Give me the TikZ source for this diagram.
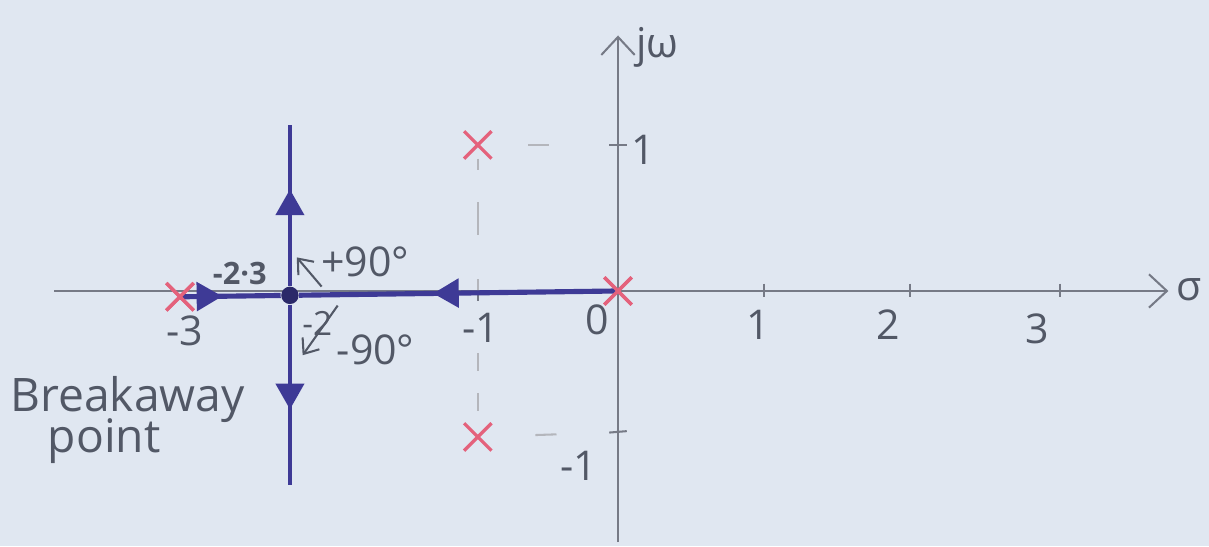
\documentclass[tikz,border=0pt]{standalone}
\usepackage{fontspec}
\setmainfont{Open Sans}
\usetikzlibrary{arrows.meta,positioning,shapes.misc,decorations.markings}
\definecolor{paper}{RGB}{224,231,241}
\definecolor{locusblue}{RGB}{62,58,150}
\definecolor{polered}{RGB}{228,98,124}
\definecolor{axisgray}{RGB}{118,122,134}
\definecolor{inkgray}{RGB}{82,88,102}

\begin{document}
\begin{tikzpicture}[
    x=2cm, y=2cm,
    axis/.style={axisgray, line width=0.8pt},
    locus/.style={locusblue, line width=2pt},
    polemark/.style={cross out, draw=polered, line width=1.3pt, minimum size=0.33cm, inner sep=0pt},
    guide/.style={axisgray!55, line width=0.8pt},
    ticklabel/.style={inkgray, font=\fontsize{16}{18}\selectfont},
    note/.style={inkgray, font=\fontsize{16}{18}\selectfont},
    inkarrow/.style={inkgray, line width=0.8pt, -{Straight Barb[length=5pt,width=8pt]}},
    flowarrow/.style={postaction={decorate}, decoration={markings,
        mark=at position #1 with {\arrow{Triangle[length=10pt,width=11pt]}}}}
]

% paper
\fill[paper] (-4.233,-1.747) rectangle (4.048,1.993);
\useasboundingbox (-4.233,-1.747) rectangle (4.048,1.993);

% axes
\coordinate (xstart) at (-3.86,0);
\coordinate (xend) at (3.77,0);
\coordinate (ybot) at (0,-1.72);
\coordinate (ytop) at (0,1.75);
\draw[axis, -{Straight Barb[length=7pt,width=13pt]}] (xstart) -- (xend);
\draw[axis, -{Straight Barb[length=7pt,width=13pt]}] (ybot) -- (ytop);
\node[note] (sigma) at (3.91,0.01) {σ};
\node[note] (jw) at (0.27,1.67) {jω};

% ticks
\foreach \t/\name in {1/one, 2/two, 3.03/three} {
    \coordinate (tk-\name) at (\t,0.05);
    \draw[axis] (tk-\name) -- ++(0,-0.09);
}
\coordinate (tk-m1) at (-0.96,0);
\draw[axis] (tk-m1) -- ++(0,-0.07);
\coordinate (yt-p1) at (-0.06,1.0);
\coordinate (yt-m1) at (-0.06,-0.97);
\draw[axis] (yt-p1) -- ++(0.12,0);
\draw[axis] (yt-m1) -- ++(0.12,0.01);

% tick labels
\node[ticklabel] (l0) at (-0.14,-0.2) {0};
\node[ticklabel] (l1) at (0.96,-0.23) {1};
\node[ticklabel] (l2) at (1.85,-0.23) {2};
\node[ticklabel] (l3) at (2.87,-0.26) {3};
\node[ticklabel] (lm1) at (-0.94,-0.25) {-1};
\node[ticklabel] (lm3) at (-2.97,-0.27) {-3};
\node[ticklabel, font=\fontsize{13}{15}\selectfont] (lm2) at (-2.06,-0.22) {-2};
\node[ticklabel] (ly1) at (0.17,0.97) {1};
\node[ticklabel] (lym1) at (-0.27,-1.2) {-1};

% poles
\node[polemark] (p0) at (0,0) {};
\node[polemark] (pm3) at (-3.0,-0.04) {};
\node[polemark] (pup) at (-0.96,1.0) {};
\node[polemark] (pdn) at (-0.96,-1.0) {};

% guide dashes
\draw[guide, dash pattern=on 0pt off 0.5cm on 0.29cm off 3cm] (pup) -- (yt-p1);
\draw[guide, dash pattern=on 0pt off 0.6cm on 0.29cm off 3cm] (pdn) -- (yt-m1);
\draw[guide, dash pattern=on 0.15cm off 0.45cm on 0.45cm off 0.6cm] (pup) -- (tk-m1);
\draw[guide, dash pattern=on 0pt off 0.85cm on 0.25cm off 0.3cm on 0.25cm off 1cm] (tk-m1) -- (pdn);

% root locus
\node[circle, fill=locusblue!70!black, inner sep=2.4pt] (brk) at (-2.247,-0.03) {};
\coordinate (btop) at (-2.247,1.137);
\coordinate (bbot) at (-2.247,-1.33);
\draw[locus, flowarrow=0.42] (pm3.center) -- (brk);
\draw[locus, flowarrow=0.58] (p0.center) -- (brk);
\draw[locusblue, line width=1.3pt, flowarrow=0.6] (brk) -- (btop);
\draw[locusblue, line width=1.3pt, flowarrow=0.58] (brk) -- (bbot);
\node[polemark] at (p0) {};
\node[polemark] at (pm3) {};

% breakaway notes
\node[inkgray, font=\fontsize{12}{14}\selectfont\bfseries] (brkval) at (-2.59,0.12) {-2·3};
\coordinate (up-s) at (-2.03,0.03);
\coordinate (up-e) at (-2.2,0.23);
\draw[inkarrow] (up-s) -- (up-e);
\node[note] (plus90) at (-1.73,0.2) {+90°};
\coordinate (dn-s) at (-1.92,-0.1);
\coordinate (dn-e) at (-2.16,-0.44);
\draw[inkarrow] (dn-s) -- (dn-e);
\node[note] (minus90) at (-1.66,-0.4) {-90°};

\node[note, font=\fontsize{18}{20}\selectfont] (bkword) at (-3.36,-0.74) {Breakaway};
\node[note, font=\fontsize{18}{20}\selectfont] (ptword) at (-3.52,-1.03) {point};

\end{tikzpicture}
\end{document}
